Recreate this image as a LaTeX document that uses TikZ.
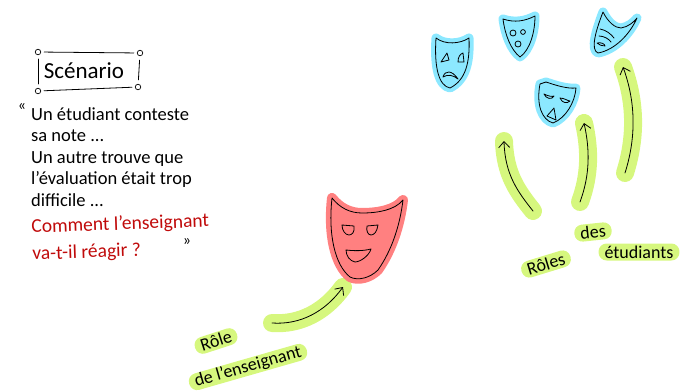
\documentclass[tikz,border=0pt]{standalone}
\usepackage{fontspec}
\setmainfont{Carlito}
\usetikzlibrary{arrows.meta}
\definecolor{bandgreen}{HTML}{D6F77E}
\definecolor{maskblue}{HTML}{8CE8FF}
\definecolor{maskred}{HTML}{FF8080}
\definecolor{textred}{HTML}{C00A0A}
\begin{document}
\begin{tikzpicture}[
		x=1pt, y=-1pt,
		ink/.style={draw=black, line width=0.8pt, line cap=round, line join=round},
		bluemask/.style={ink, fill=maskblue, preaction={draw=maskblue, line width=9pt, line join=round}},
		redmask/.style={ink, fill=maskred, preaction={draw=maskred, line width=10pt, line join=round}},
		band/.style={draw=bandgreen, line width=18pt, line cap=round},
		arrow/.style={draw=black, line width=0.8pt, line cap=round, -{Straight Barb[length=6pt, width=11pt]}},
		textband/.style={fill=bandgreen, rounded corners=8pt, inner xsep=6pt, inner ysep=0pt, minimum height=17pt, font=\fontsize{18}{18}\selectfont},
		corner/.style={circle, draw=black, line width=0.7pt, inner sep=0pt, minimum size=5.5pt},
		note/.style={align=left, anchor=north west, inner sep=0pt}
		]
		\useasboundingbox (0,0) rectangle (689,391);
		
		% scenario box
		\node[corner] (nw) at (38,52) {};
		\node[corner] (ne) at (140,53) {};
		\node[corner] (sw) at (38,91) {};
		\node[corner] (se) at (138,87) {};
		\draw[ink, shorten >=3pt, shorten <=3pt] (nw) -- (ne);
		\draw[ink, shorten >=3pt, shorten <=3pt] (sw) -- (se);
		\draw[ink, shorten >=4pt, shorten <=4pt] (nw) -- (sw);
		\draw[ink, shorten >=4pt, shorten <=4pt] (ne) -- (se);
		\node[inner sep=0pt, font=\fontsize{23}{23}\selectfont] (title) at (84,71) {Scénario};
		
		% text
		\node[font=\fontsize{16}{16}\selectfont, inner sep=0pt] (open) at (22,107) {«};
		\node[note, font=\fontsize{18.5}{21.5}\selectfont] (story) at (31,107) {Un étudiant conteste\\sa note ...\\Un autre trouve que\\l'évaluation était trop\\difficile ...};
		\node[note, text=textred, font=\fontsize{19.5}{27}\selectfont, rotate=2] (question) at (31,219) {Comment l'enseignant\\va-t-il réagir ?};
		\node[font=\fontsize{16}{16}\selectfont, inner sep=0pt] (close) at (187,242) {»};
		
		% blue masks
		\draw[bluemask] (436,38) .. controls (445,45) and (460,44) .. (469,38) .. controls (470,62) and (466,80) .. (450,88) .. controls (439,86) and (434,68) .. (436,38) -- cycle;
		\draw[ink] (441,62) -- (447,53) -- (449,60) -- cycle;
		\draw[ink] (458,62) .. controls (458,57) and (460,54) .. (463,53) -- (464,62) -- cycle;
		\draw[ink] (443,77) .. controls (445,70) and (452,70) .. (458,79) .. controls (453,75) and (448,74) .. (443,77) -- cycle;
		
		\draw[bluemask] (503,19) .. controls (515,23) and (525,21) .. (535,16) .. controls (535,32) and (530,50) .. (520,57) .. controls (511,50) and (505,35) .. (503,19) -- cycle;
		\draw[ink] (513,33) circle[radius=3pt];
		\draw[ink] (523,32) circle[radius=2.4pt];
		\draw[ink] (518,44) circle[radius=3pt];
		
		\draw[bluemask] (603,12) .. controls (608,22) and (615,28) .. (621,28) .. controls (628,27) and (634,22) .. (637,18) .. controls (630,34) and (615,50) .. (598,53) .. controls (590,50) and (596,30) .. (603,12) -- cycle;
		\draw[ink] (600,29) .. controls (606,30) and (611,34) .. (614,38);
		\draw[ink] (599,36) .. controls (604,36) and (609,39) .. (611,42);
		\draw[ink] (597,43) .. controls (601,42) and (605,44) .. (605,46) .. controls (602,46) and (599,45) .. (597,43) -- cycle;
		
		\draw[bluemask] (546,82) .. controls (555,85) and (567,89) .. (576,88) .. controls (575,102) and (566,118) .. (553,123) .. controls (542,120) and (536,105) .. (540,84) -- cycle;
		\draw[ink] (544,94) .. controls (548,96) and (552,97) .. (554,96) .. controls (552,100) and (546,99) .. (544,94) -- cycle;
		\draw[ink] (560,98) .. controls (564,98) and (568,101) .. (570,101) .. controls (567,104) and (562,103) .. (560,98) -- cycle;
		\draw[ink] (547,116) -- (554,108) -- (556,120) -- cycle;
		
		% arrows
		\coordinate (teacherstart) at (272,323);
		\coordinate (teachertip) at (343,287);
		\draw[band] (teacherstart) .. controls (300,325) and (325,312) .. (teachertip);
		\draw[arrow] (teacherstart) .. controls (300,325) and (325,312) .. (teachertip);
		
		\coordinate (firststart) at (533,211);
		\coordinate (firsttip) at (504,141);
		\draw[band] (firststart) .. controls (518,192) and (505,175) .. (firsttip);
		\draw[arrow] (firststart) .. controls (518,192) and (505,175) .. (firsttip);
		
		\coordinate (secondstart) at (580,202);
		\coordinate (secondtip) at (584,123);
		\draw[band] (secondstart) .. controls (590,175) and (590,150) .. (secondtip);
		\draw[arrow] (secondstart) .. controls (590,175) and (590,150) .. (secondtip);
		
		\coordinate (thirdstart) at (625,173);
		\coordinate (thirdtip) at (623,67);
		\draw[band] (thirdstart) .. controls (637,135) and (635,100) .. (thirdtip);
		\draw[arrow] (thirdstart) .. controls (637,135) and (635,100) .. (thirdtip);
		
		% red mask
		\draw[redmask] (332,198) .. controls (340,208) and (350,213) .. (362,213) .. controls (378,213) and (395,210) .. (403,200) .. controls (400,225) and (392,250) .. (378,270) .. controls (370,278) and (358,281) .. (350,277) .. controls (335,265) and (328,235) .. (332,198) -- cycle;
		\draw[ink] (342,225) -- (354,226) .. controls (355,232) and (352,235) .. (349,235) .. controls (345,235) and (342,230) .. (342,225) -- cycle;
		\draw[ink] (367,226) -- (378,225) .. controls (377,232) and (374,235) .. (371,235) .. controls (368,235) and (366,231) .. (367,226) -- cycle;
		\draw[ink] (346,250) .. controls (355,251) and (363,251) .. (371,249) .. controls (369,256) and (360,262) .. (355,262) .. controls (350,261) and (346,256) .. (346,250) -- cycle;
		
		% labels
		\node[textband, rotate=18] (teacherone) at (216,341) {Rôle};
		\node[textband, rotate=16] (teachertwo) at (248,367) {de l'enseignant};
		\node[textband, rotate=17] (studentone) at (546,264) {Rôles};
		\node[textband, rotate=6] (studenttwo) at (593,232) {des};
		\node[textband] (studentthree) at (639,252) {étudiants};
		
	\end{tikzpicture}
\end{document}
